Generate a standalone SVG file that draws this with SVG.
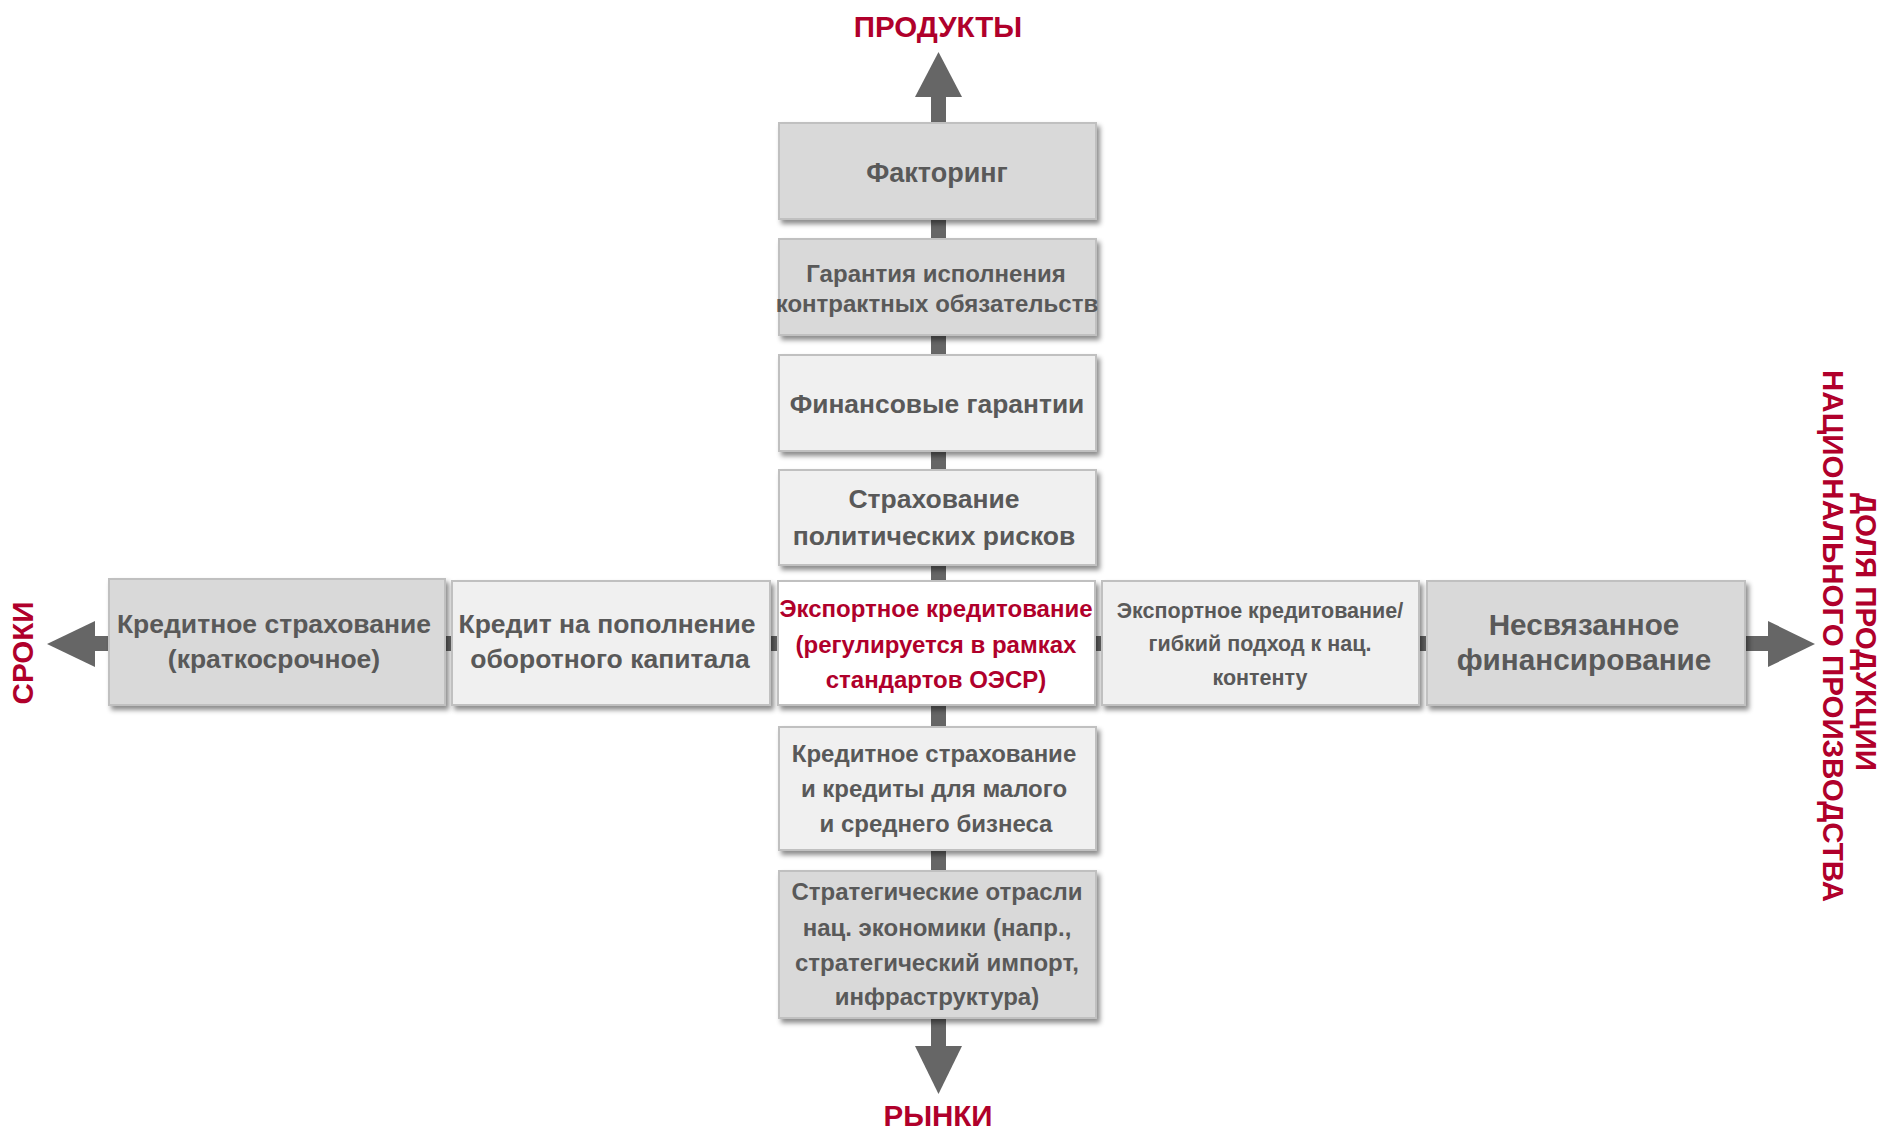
<svg xmlns="http://www.w3.org/2000/svg" width="1885" height="1129" viewBox="0 0 1885 1129">
<style>
.box{stroke:#c0c0c0;stroke-width:2;filter:url(#sh)}
.dk{fill:#d9d9d9}
.lt{fill:#f0f0f0}
.wh{fill:#ffffff}
.t{font-family:"Liberation Sans",Arial,sans-serif;font-weight:bold;fill:#595959;text-anchor:middle}
.r{fill:#b0002b}
.ax{fill:#666666}
.lbl{font-family:"Liberation Sans",Arial,sans-serif;font-weight:bold;fill:#b0002b;font-size:29.5px;text-anchor:middle}
</style>
<defs>
<filter id="sh" x="-5%" y="-5%" width="115%" height="125%">
<feDropShadow dx="3" dy="4" stdDeviation="2.5" flood-color="#000" flood-opacity="0.45"/>
</filter>
</defs>
<rect width="1885" height="1129" fill="#ffffff"/>
<g id="connectors">
<rect class="ax" x="931" y="96" width="15" height="952"/>
<polygon class="ax" points="938.5,52 962,97 915,97"/>
<polygon class="ax" points="938.5,1094 962,1046 915,1046"/>
<rect class="ax" x="94" y="636" width="1676" height="15"/>
<polygon class="ax" points="47,644 95,621 95,667"/>
<polygon class="ax" points="1815,644 1768,621 1768,667"/>
</g>
<g id="axis-labels">
<text class="lbl" x="938" y="37">ПРОДУКТЫ</text>
<text class="lbl" x="938" y="1126">РЫНКИ</text>
<text class="lbl" transform="translate(33,653) rotate(-90)">СРОКИ</text>
<text class="lbl" transform="translate(1856,632) rotate(90)">ДОЛЯ ПРОДУКЦИИ</text>
<text class="lbl" transform="translate(1823,636) rotate(90)">НАЦИОНАЛЬНОГО ПРОИЗВОДСТВА</text>
</g>
<g id="n-factoring">
<rect class="box dk" x="779" y="123" width="317" height="96"/>
<text class="t" x="937" y="182" font-size="27">Факторинг</text>
</g>
<g id="n-guarantee-contract">
<rect class="box dk" x="779" y="239" width="317" height="96"/>
<text class="t" x="936" y="282" font-size="24">Гарантия исполнения</text>
<text class="t" x="937" y="312" font-size="24">контрактных обязательств</text>
</g>
<g id="n-fin-guarantees">
<rect class="box lt" x="779" y="355" width="317" height="96"/>
<text class="t" x="937" y="413" font-size="26.4">Финансовые гарантии</text>
</g>
<g id="n-political">
<rect class="box lt" x="779" y="470" width="317" height="95"/>
<text class="t" x="934" y="508" font-size="26.5">Страхование</text>
<text class="t" x="934" y="545" font-size="26.5">политических рисков</text>
</g>
<g id="n-credit-insurance-short">
<rect class="box dk" x="109" y="579" width="336" height="126"/>
<text class="t" x="274" y="633" font-size="26.5">Кредитное страхование</text>
<text class="t" x="274" y="668" font-size="26.5">(краткосрочное)</text>
</g>
<g id="n-working-capital">
<rect class="box lt" x="452" y="581" width="318" height="124"/>
<text class="t" x="607" y="633" font-size="26.5">Кредит на пополнение</text>
<text class="t" x="610" y="668" font-size="26.5">оборотного капитала</text>
</g>
<g id="n-export-credit-oecd">
<rect class="box wh" x="778" y="581" width="317" height="124"/>
<text class="t r" x="936" y="617" font-size="24">Экспортное кредитование</text>
<text class="t r" x="936" y="653" font-size="24">(регулируется в рамках</text>
<text class="t r" x="936" y="688" font-size="24">стандартов ОЭСР)</text>
</g>
<g id="n-export-credit-flex">
<rect class="box lt" x="1102" y="581" width="317" height="124"/>
<text class="t" x="1260" y="618" font-size="21.5">Экспортное кредитование/</text>
<text class="t" x="1260" y="651" font-size="21.5">гибкий подход к нац.</text>
<text class="t" x="1260" y="685" font-size="21.5">контенту</text>
</g>
<g id="n-untied">
<rect class="box dk" x="1427" y="581" width="318" height="124"/>
<text class="t" x="1584" y="635" font-size="29.7">Несвязанное</text>
<text class="t" x="1584" y="670" font-size="29.7">финансирование</text>
</g>
<g id="n-sme">
<rect class="box lt" x="779" y="727" width="317" height="123"/>
<text class="t" x="934" y="762" font-size="24">Кредитное страхование</text>
<text class="t" x="934" y="797" font-size="24">и кредиты для малого</text>
<text class="t" x="936" y="832" font-size="24">и среднего бизнеса</text>
</g>
<g id="n-strategic">
<rect class="box dk" x="779" y="871" width="317" height="147"/>
<text class="t" x="937" y="900" font-size="24">Стратегические отрасли</text>
<text class="t" x="937" y="936" font-size="24">нац. экономики (напр.,</text>
<text class="t" x="937" y="971" font-size="24">стратегический импорт,</text>
<text class="t" x="937" y="1005" font-size="24">инфраструктура)</text>
</g>
</svg>
